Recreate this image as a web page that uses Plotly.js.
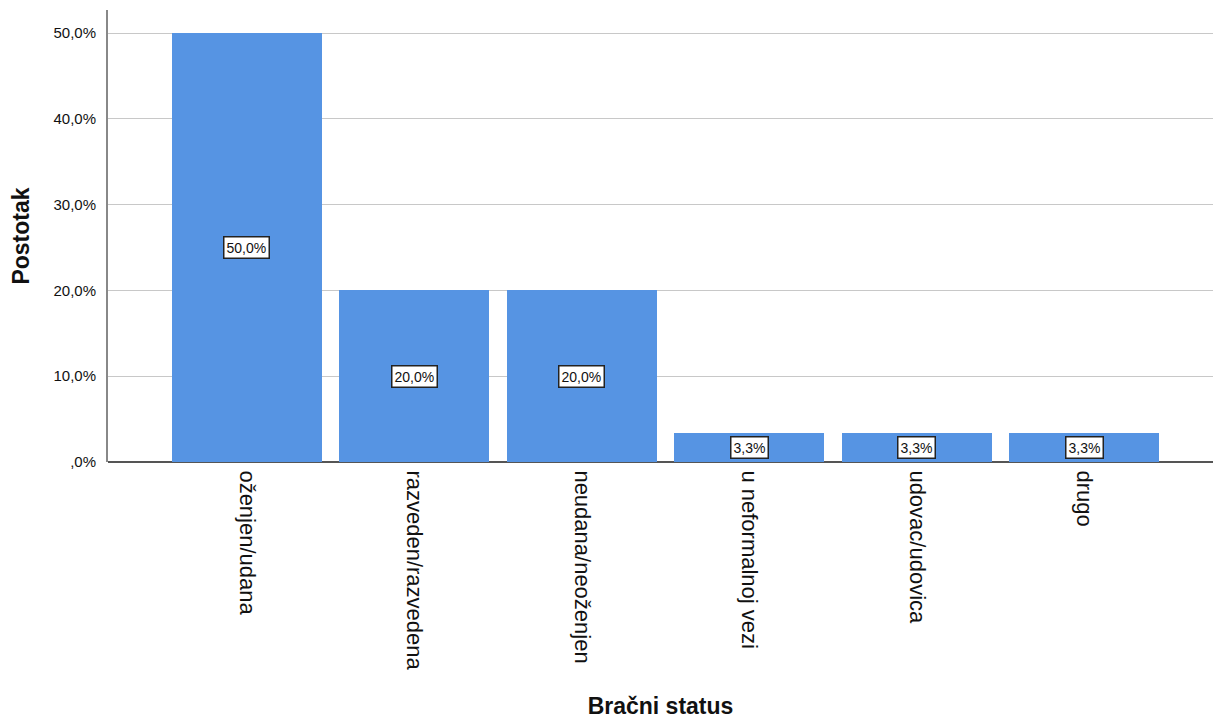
<!DOCTYPE html>
<html>
<head>
<meta charset="utf-8">
<script src="https://cdn.plot.ly/plotly-3.0.1.min.js"></script>
<style>html,body{margin:0;padding:0;background:#fff;}#chart{width:1221px;height:721px;}</style>
</head>
<body>
<div id="chart"></div>
<script>
const categories = ["oženjen/udana", "razveden/razvedena", "neudana/neoženjen", "u neformalnoj vezi", "udovac/udovica", "drugo"];
const values = [50.0, 20.0, 20.0, 3.33, 3.33, 3.33];
const valueLabels = ["50,0%", "20,0%", "20,0%", "3,3%", "3,3%", "3,3%"];
const yTickVals = [0, 10, 20, 30, 40, 50];
const yTickText = [",0%", "10,0%", "20,0%", "30,0%", "40,0%", "50,0%"];

const trace = {
  type: "bar",
  x: categories,
  y: values,
  width: 0.895,
  marker: {color: "#5694e3", line: {width: 0}},
  hoverinfo: "skip"
};

const annotations = categories.map((c, i) => ({
  x: c, y: values[i] / 2, xref: "x", yref: "y",
  text: valueLabels[i], showarrow: false,
  bgcolor: "#ffffff", bordercolor: "#222222", borderwidth: 1.5, borderpad: 2,
  font: {family: "Liberation Sans, Arial, sans-serif", size: 14, color: "#111"}
}));

const layout = {
  width: 1221, height: 721,
  margin: {l: 108, r: 8, t: 10, b: 259},
  paper_bgcolor: "#ffffff", plot_bgcolor: "#ffffff",
  font: {family: "Liberation Sans, Arial, sans-serif", color: "#111"},
  showlegend: false,
  bargap: 0,
  xaxis: {
    type: "category",
    range: [-0.83, 5.77],
    tickangle: 90,
    tickfont: {size: 22, color: "#111"},
    showgrid: false, showline: false, zeroline: false,
    ticks: "outside", ticklen: 3, tickcolor: "rgba(0,0,0,0)",
    automargin: false,
    title: {text: "Bračni status", font: {size: 23, color: "#111", weight: "bold"}, standoff: 28}
  },
  yaxis: {
    range: [0, 52.7],
    tickvals: yTickVals, ticktext: yTickText,
    tickfont: {size: 15, color: "#111"},
    showgrid: true, gridcolor: "#c8c8c8", gridwidth: 1,
    showline: true, linecolor: "#888888", linewidth: 2,
    zeroline: true, zerolinecolor: "#555555", zerolinewidth: 2,
    ticks: "outside", ticklen: 7, tickcolor: "rgba(0,0,0,0)",
    automargin: false,
    title: {text: "Postotak", font: {size: 23, color: "#111", weight: "bold"}, standoff: 17}
  },
  annotations: annotations
};

Plotly.newPlot("chart", [trace], layout, {displayModeBar: false, staticPlot: true});
</script>
</body>
</html>
